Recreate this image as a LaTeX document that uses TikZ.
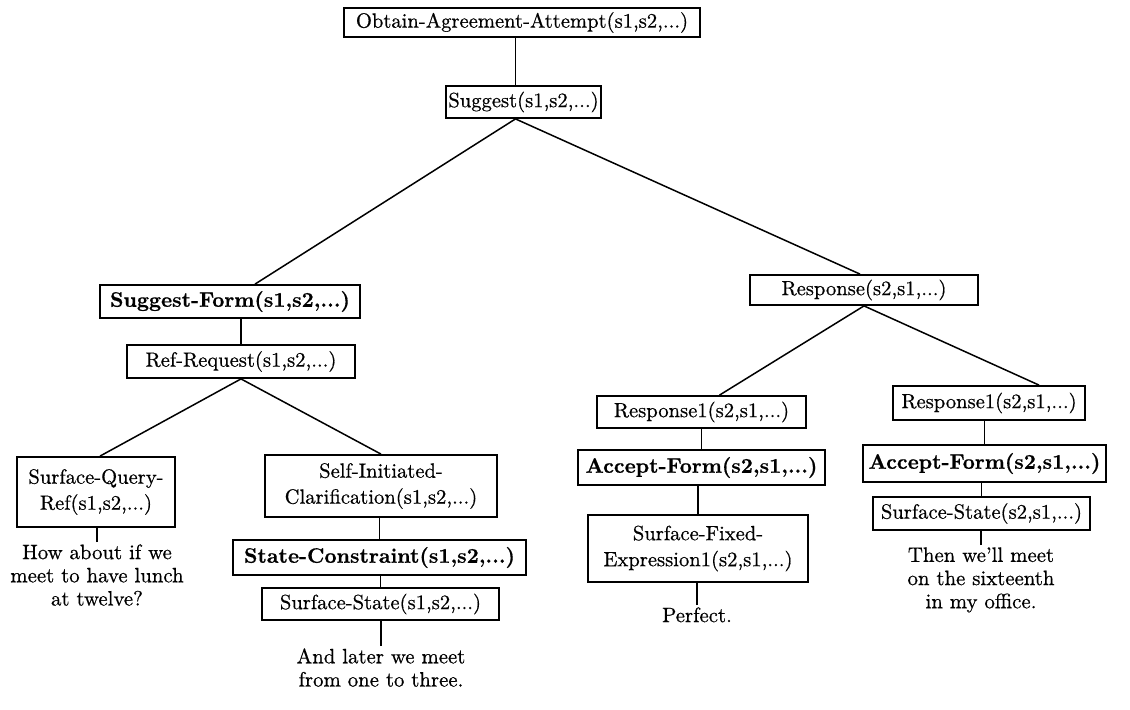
\documentclass[tikz,border=0pt]{standalone}
\usepackage{fontspec}
\setmainfont{Latin Modern Roman}[FakeBold=0.6]
\usetikzlibrary{calc}
\begin{document}
\begin{tikzpicture}[x=0.5pt,y=-0.5pt,
  box/.style={draw, line width=0.9pt, inner sep=1pt, align=center,
    font=\fontsize{10.3}{13}\selectfont},
  bbox/.style={box, font=\fontsize{10.5}{13}\selectfont\bfseries},
  leaf/.style={align=center, inner sep=1pt, font=\fontsize{10.4}{11.6}\selectfont},
  edge/.style={line width=0.75pt}]
\useasboundingbox (0,0) rectangle (1130,709);
% nodes
\node[box, minimum width=178pt, minimum height=14.5pt] (obtain) at (522,22.5) {Obtain-Agreement-Attempt(s1,s2,...)};
\node[box, minimum width=74.5pt, minimum height=16pt] (suggest) at (523.5,102) {Suggest(s1,s2,...)};
\node[bbox, minimum width=130pt, minimum height=16.5pt] (sform) at (230,301.5) {Suggest-Form(s1,s2,...)};
\node[box, minimum width=114pt, minimum height=15pt] (resp) at (864,290) {Response(s2,s1,...)};
\node[box, minimum width=114pt, minimum height=16.5pt] (refreq) at (241,361.5) {Ref-Request(s1,s2,...)};
\node[box, minimum width=79pt, minimum height=35pt] (sqr) at (96,492) {Surface-Query-\\Ref(s1,s2,...)};
\node[box, minimum width=116pt, minimum height=31pt] (sic) at (381,486) {Self-Initiated-\\Clarification(s1,s2,...)};
\node[bbox, minimum width=146.5pt, minimum height=17.5pt] (sc) at (379.5,557.5) {State-Constraint(s1,s2,...)};
\node[box, minimum width=118.5pt, minimum height=16pt] (ssa) at (380.5,604) {Surface-State(s1,s2,...)};
\node[box, minimum width=104.5pt, minimum height=16pt] (ra) at (701.5,412) {Response1(s2,s1,...)};
\node[box, minimum width=96pt, minimum height=17pt] (rb) at (989,403) {Response1(s2,s1,...)};
\node[bbox, minimum width=123.5pt, minimum height=17.5pt] (afa) at (701.5,467.5) {Accept-Form(s2,s1,...)};
\node[bbox, minimum width=121.5pt, minimum height=18.5pt] (afb) at (984.5,463.5) {Accept-Form(s2,s1,...)};
\node[box, minimum width=110pt, minimum height=33.5pt] (sfe) at (698,548.5) {Surface-Fixed-\\Expression1(s2,s1,...)};
\node[box, minimum width=108.5pt, minimum height=16.5pt] (ssb) at (981.5,513.5) {Surface-State(s2,s1,...)};
% leaf utterances
\node[leaf, anchor=north] (ua) at (97,542) {How about if we\\meet to have lunch\\at twelve?};
\node[leaf, anchor=north] (ub) at (381,646) {And later we meet\\from one to three.};
\node[leaf, anchor=north] (uc) at (697,605) {Perfect.};
\node[leaf, anchor=north] (ud) at (981,545) {Then we'll meet\\on the sixteenth\\in my office.};
% connectors
\draw[edge] ($(suggest.north)+(-8,0)$) -- ($(suggest.north |- obtain.south)+(-8,0)$);
\draw[edge] ($(suggest.south)+(-8,0)$) -- ($(sform.north)+(25,0)$);
\draw[edge] ($(suggest.south)+(-8,0)$) -- ($(resp.north)+(-4,0)$);
\draw[edge] (refreq.north) -- (refreq.north |- sform.south);
\draw[edge] (refreq.south) -- ($(sqr.north)+(4,0)$);
\draw[edge] (refreq.south) -- (sic.north);
\draw[edge] (sc.north) -- (sc.north |- sic.south);
\draw[edge] (ssa.north) -- (ssa.north |- sc.south);
\draw[edge] (resp.south) -- ($(ra.north)+(18,0)$);
\draw[edge] (resp.south) -- ($(rb.north)+(50,0)$);
\draw[edge] (afa.north) -- (afa.north |- ra.south);
\draw[edge] (sfe.north) -- (sfe.north |- afa.south);
\draw[edge] (afb.north) -- (afb.north |- rb.south);
\draw[edge] (ssb.north) -- (ssb.north |- afb.south);
\draw[edge] (ua.north) -- (ua.north |- sqr.south);
\draw[edge] (ub.north) -- (ub.north |- ssa.south);
\draw[edge] (uc.north) -- (uc.north |- sfe.south);
\draw[edge] (ud.north) -- (ud.north |- ssb.south);
\end{tikzpicture}
\end{document}
